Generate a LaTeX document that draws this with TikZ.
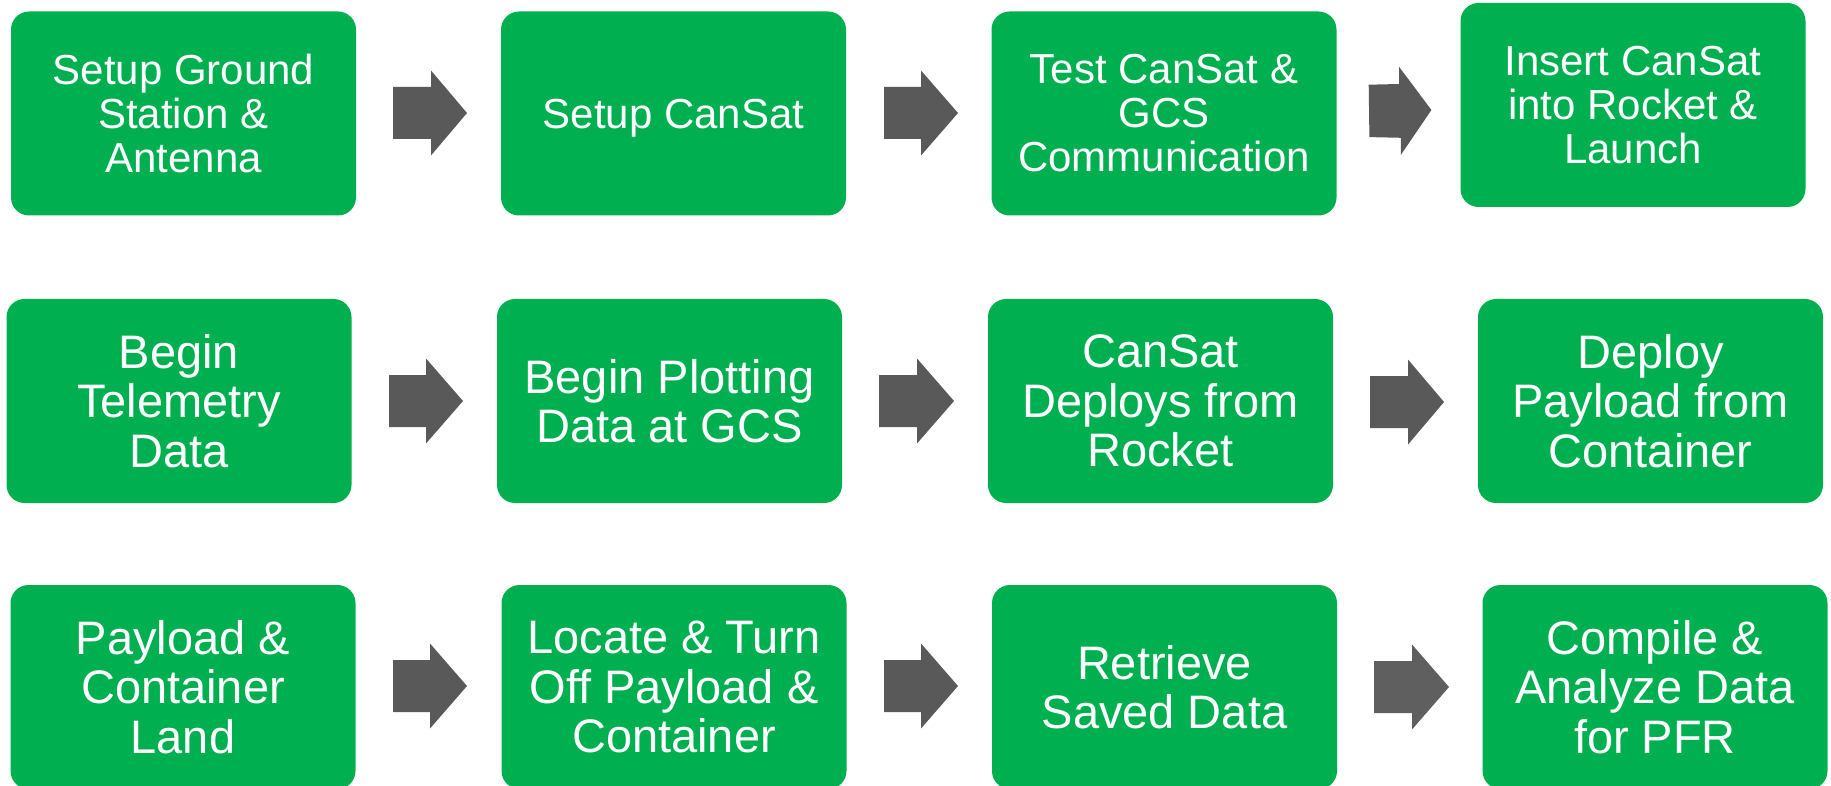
\documentclass[tikz,border=0pt]{standalone}
\usepackage{fontspec}
\setmainfont{Liberation Sans}
\definecolor{boxgreen}{HTML}{00AF50}
\definecolor{arrowgray}{HTML}{595959}
\definecolor{arrowgrayb}{HTML}{5F5F5F}
\newcommand{\blkarrow}[5]{%
  \fill[#5] (#1,#4-26) -- (#2,#4-26) -- (#2,#4-42.5) -- (#3,#4) -- (#2,#4+42.5) -- (#2,#4+26) -- (#1,#4+26) -- cycle;}
\begin{document}
\begin{tikzpicture}[x=1pt,y=-1pt,
  stepbox/.style={fill=boxgreen, rounded corners=18pt, minimum width=345pt,
    minimum height=204pt, inner sep=0pt, text=white, align=center},
  smalltxt/.style={font=\fontsize{42}{44}\selectfont},
  bigtxt/.style={font=\fontsize{47}{49.5}\selectfont}]
\useasboundingbox (0,0) rectangle (1831,786);
\clip (0,0) rectangle (1831,786);
% row 1
\node[stepbox,smalltxt] (b1) at (183.5,113.5) {Setup Ground\\Station \&\\Antenna};
\node[stepbox,smalltxt,text depth=0pt] (b2) at (673.5,113.5) {Setup CanSat};
\node[stepbox,smalltxt] (b3) at (1164,113.5) {Test CanSat \&\\GCS\\Communication};
\node[stepbox,smalltxt] (b4) at (1633,105) {Insert CanSat\\into Rocket \&\\Launch};
% row 2
\node[stepbox,bigtxt] (b5) at (179,401) {Begin\\Telemetry\\Data};
\node[stepbox,bigtxt] (b6) at (669.5,401) {Begin Plotting\\Data at GCS};
\node[stepbox,bigtxt] (b7) at (1160.5,401) {CanSat\\Deploys from\\Rocket};
\node[stepbox,bigtxt] (b8) at (1650.5,401) {Deploy\\Payload from\\Container};
% row 3
\node[stepbox,bigtxt] (b9) at (183,687) {Payload \&\\Container\\Land};
\node[stepbox,bigtxt] (b10) at (674,687) {Locate \& Turn\\Off Payload \&\\Container};
\node[stepbox,bigtxt] (b11) at (1164.5,687) {Retrieve\\Saved Data};
\node[stepbox,bigtxt] (b12) at (1655,687) {Compile \&\\Analyze Data\\for PFR};
% arrows
\blkarrow{393}{431}{467}{113}{arrowgray}
\blkarrow{884}{921}{958}{113}{arrowgray}
\fill[arrowgray] (1368.7,84.7) -- (1399.2,84) -- (1399.2,67) -- (1431.4,110) -- (1400.9,154.8) -- (1400.9,137.8) -- (1369.4,137.1) -- cycle;
\blkarrow{389}{426}{463}{401}{arrowgray}
\blkarrow{879}{917}{954}{401}{arrowgray}
\blkarrow{1370}{1408}{1444}{402}{arrowgray}
\blkarrow{393}{430}{467}{686}{arrowgray}
\blkarrow{884}{921}{958}{686}{arrowgray}
\blkarrow{1374}{1412}{1449}{687}{arrowgrayb}
\end{tikzpicture}
\end{document}
